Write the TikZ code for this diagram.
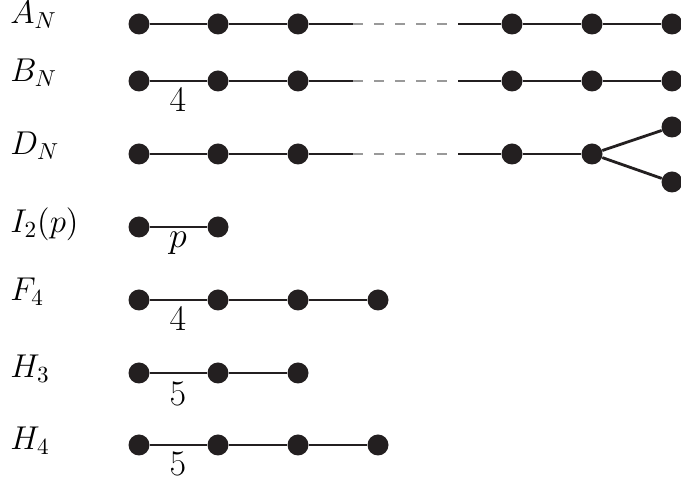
\RequirePackage{fix-cm}
\documentclass[tikz,border=0pt]{standalone}
\definecolor{ink}{HTML}{231F20}
\definecolor{dashgray}{HTML}{999999}
\begin{document}
\begin{tikzpicture}[x=0.5pt,y=-0.5pt,
  dot/.style={circle,fill=ink,draw=none,minimum size=10.5pt,inner sep=0pt},
  edge/.style={line width=1.4pt,draw=ink},
  gap/.style={line width=1.4pt,draw=dashgray,dash pattern=on 5pt off 5.5pt},
  lab/.style={anchor=base west,inner sep=0pt,text=black,font=\fontsize{16.5}{20}\selectfont},
  num/.style={inner sep=0pt,text=black,font=\fontsize{18}{22}\selectfont}]
\useasboundingbox (0,0) rectangle (681,480);
% A_N
\node[lab] (la) at (10,24) {$A_N$};
\foreach \i/\x in {1/139,2/218,3/298,4/512,5/592,6/672}{\node[dot] (a\i) at (\x,24) {};}
\coordinate (ad1) at (353,24); \coordinate (ad2) at (458,24);
\draw[edge] (a1)--(a2)--(a3)--(ad1);
\draw[gap] (ad1)--(ad2);
\draw[edge] (ad2)--(a4)--(a5)--(a6);
% B_N
\node[lab] (lb) at (10,82) {$B_N$};
\foreach \i/\x in {1/139,2/218,3/298,4/512,5/592,6/672}{\node[dot] (b\i) at (\x,81) {};}
\coordinate (bd1) at (353,81); \coordinate (bd2) at (458,81);
\draw[edge] (b1)--(b2)--(b3)--(bd1);
\draw[gap] (bd1)--(bd2);
\draw[edge] (bd2)--(b4)--(b5)--(b6);
\node[num] (nb) at (178,100) {$4$};
% D_N
\node[lab] (ld) at (10,155) {$D_N$};
\foreach \i/\x in {1/139,2/218,3/298,4/512,5/592}{\node[dot] (d\i) at (\x,154) {};}
\node[dot] (d6) at (672,127) {};
\node[dot] (d7) at (672,182) {};
\coordinate (dd1) at (353,154); \coordinate (dd2) at (458,154);
\draw[edge] (d1)--(d2)--(d3)--(dd1);
\draw[gap] (dd1)--(dd2);
\draw[edge] (dd2)--(d4)--(d5);
\draw[edge] (d5)--(d6);
\draw[edge] (d5)--(d7);
% I_2(p)
\node[lab] (li) at (10,233) {$I_2(p)$};
\node[dot] (i1) at (139,227) {};
\node[dot] (i2) at (218,227) {};
\draw[edge] (i1)--(i2);
\node[num,anchor=north] (np) at (178,232) {$p$};
% F_4
\node[lab] (lf) at (10,301) {$F_4$};
\foreach \i/\x in {1/139,2/218,3/298,4/378}{\node[dot] (f\i) at (\x,300) {};}
\draw[edge] (f1)--(f2)--(f3)--(f4);
\node[num] (nf) at (178,319) {$4$};
% H_3
\node[lab] (lh) at (10,378) {$H_3$};
\foreach \i/\x in {1/139,2/218,3/298}{\node[dot] (h\i) at (\x,373) {};}
\draw[edge] (h1)--(h2)--(h3);
\node[num] (nh) at (178,394) {$5$};
% H_4
\node[lab] (lk) at (10,450) {$H_4$};
\foreach \i/\x in {1/139,2/218,3/298,4/378}{\node[dot] (k\i) at (\x,445) {};}
\draw[edge] (k1)--(k2)--(k3)--(k4);
\node[num] (nk) at (178,464) {$5$};
\end{tikzpicture}
\end{document}
